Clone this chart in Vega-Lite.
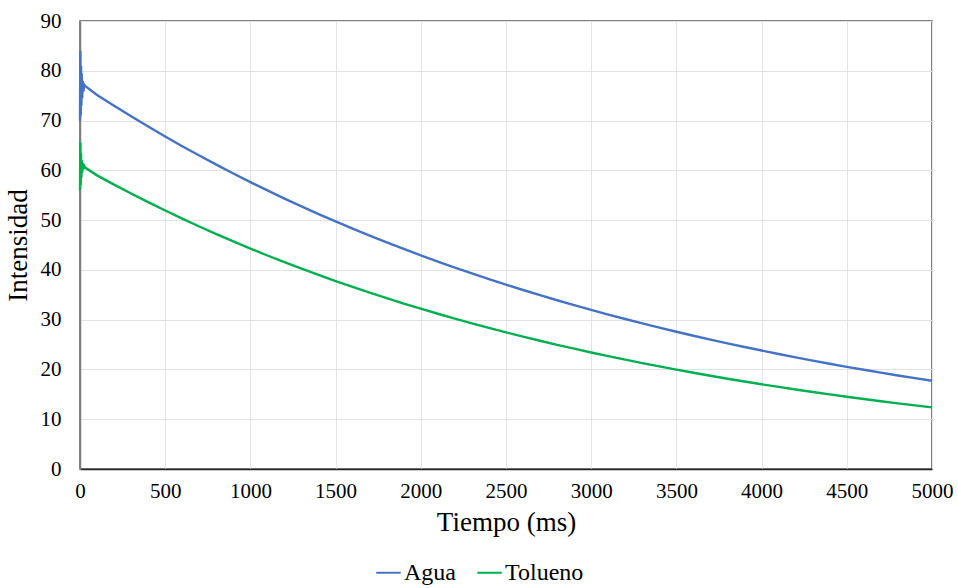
{
  "$schema": "https://vega.github.io/schema/vega-lite/v6.json",
  "width": 852,
  "height": 448,
  "autosize": "none",
  "padding": {"left": 80, "top": 21, "right": 26, "bottom": 119},
  "background": "white",
  "config": {
    "font": "Liberation Serif, DejaVu Serif, serif",
    "view": {"stroke": "#595959", "strokeWidth": 1.5},
    "axis": {
      "labelFont": "Liberation Serif, DejaVu Serif, serif",
      "titleFont": "Liberation Serif, DejaVu Serif, serif",
      "labelColor": "#000000",
      "titleColor": "#000000",
      "titleFontWeight": "normal",
      "gridColor": "#e3e3e3",
      "gridWidth": 1,
      "ticks": false
    },
    "legend": {
      "labelFont": "Liberation Serif, DejaVu Serif, serif"
    }
  },
  "datasets": {
    "agua": [
      {"t": 0, "v": 70}, {"t": 2, "v": 84}, {"t": 4, "v": 71}, {"t": 6, "v": 81}, {"t": 8, "v": 73},
      {"t": 10, "v": 79.5}, {"t": 13, "v": 74.5}, {"t": 16, "v": 78}, {"t": 20, "v": 75.8}, {"t": 25, "v": 77.2},
      {"t": 32, "v": 76.9},
      {"t": 100, "v": 75.15}, {"t": 200, "v": 72.97}, {"t": 300, "v": 70.85}, {"t": 400, "v": 68.79},
      {"t": 500, "v": 66.79}, {"t": 600, "v": 64.85}, {"t": 700, "v": 62.97}, {"t": 800, "v": 61.14},
      {"t": 900, "v": 59.36}, {"t": 1000, "v": 57.64}, {"t": 1100, "v": 55.96}, {"t": 1200, "v": 54.33},
      {"t": 1300, "v": 52.76}, {"t": 1400, "v": 51.22}, {"t": 1500, "v": 49.73}, {"t": 1600, "v": 48.29},
      {"t": 1700, "v": 46.89}, {"t": 1800, "v": 45.52}, {"t": 1900, "v": 44.2}, {"t": 2000, "v": 42.92},
      {"t": 2100, "v": 41.67}, {"t": 2200, "v": 40.46}, {"t": 2300, "v": 39.28}, {"t": 2400, "v": 38.14},
      {"t": 2500, "v": 37.03}, {"t": 2600, "v": 35.96}, {"t": 2700, "v": 34.91}, {"t": 2800, "v": 33.9},
      {"t": 2900, "v": 32.91}, {"t": 3000, "v": 31.96}, {"t": 3100, "v": 31.03}, {"t": 3200, "v": 30.13},
      {"t": 3300, "v": 29.25}, {"t": 3400, "v": 28.4}, {"t": 3500, "v": 27.58}, {"t": 3600, "v": 26.77},
      {"t": 3700, "v": 26.0}, {"t": 3800, "v": 25.24}, {"t": 3900, "v": 24.51}, {"t": 4000, "v": 23.8},
      {"t": 4100, "v": 23.1}, {"t": 4200, "v": 22.43}, {"t": 4300, "v": 21.78}, {"t": 4400, "v": 21.15},
      {"t": 4500, "v": 20.53}, {"t": 4600, "v": 19.94}, {"t": 4700, "v": 19.36}, {"t": 4800, "v": 18.79},
      {"t": 4900, "v": 18.25}, {"t": 5000, "v": 17.72}
    ],
    "tolueno": [
      {"t": 0, "v": 56}, {"t": 2, "v": 65.6}, {"t": 4, "v": 57}, {"t": 6, "v": 63.5}, {"t": 8, "v": 58.5},
      {"t": 10, "v": 62}, {"t": 13, "v": 59.5}, {"t": 16, "v": 61.5}, {"t": 20, "v": 60.2}, {"t": 25, "v": 60.9},
      {"t": 32, "v": 60.5},
      {"t": 100, "v": 58.99}, {"t": 200, "v": 57.14}, {"t": 300, "v": 55.35}, {"t": 400, "v": 53.61},
      {"t": 500, "v": 51.93}, {"t": 600, "v": 50.3}, {"t": 700, "v": 48.72}, {"t": 800, "v": 47.19},
      {"t": 900, "v": 45.71}, {"t": 1000, "v": 44.28}, {"t": 1100, "v": 42.89}, {"t": 1200, "v": 41.55},
      {"t": 1300, "v": 40.24}, {"t": 1400, "v": 38.98}, {"t": 1500, "v": 37.76}, {"t": 1600, "v": 36.57},
      {"t": 1700, "v": 35.43}, {"t": 1800, "v": 34.31}, {"t": 1900, "v": 33.24}, {"t": 2000, "v": 32.2},
      {"t": 2100, "v": 31.19}, {"t": 2200, "v": 30.21}, {"t": 2300, "v": 29.26}, {"t": 2400, "v": 28.34},
      {"t": 2500, "v": 27.45}, {"t": 2600, "v": 26.59}, {"t": 2700, "v": 25.76}, {"t": 2800, "v": 24.95},
      {"t": 2900, "v": 24.17}, {"t": 3000, "v": 23.41}, {"t": 3100, "v": 22.68}, {"t": 3200, "v": 21.96},
      {"t": 3300, "v": 21.27}, {"t": 3400, "v": 20.61}, {"t": 3500, "v": 19.96}, {"t": 3600, "v": 19.33},
      {"t": 3700, "v": 18.73}, {"t": 3800, "v": 18.14}, {"t": 3900, "v": 17.57}, {"t": 4000, "v": 17.02},
      {"t": 4100, "v": 16.49}, {"t": 4200, "v": 15.97}, {"t": 4300, "v": 15.47}, {"t": 4400, "v": 14.98},
      {"t": 4500, "v": 14.51}, {"t": 4600, "v": 14.06}, {"t": 4700, "v": 13.62}, {"t": 4800, "v": 13.19},
      {"t": 4900, "v": 12.78}, {"t": 5000, "v": 12.38}
    ]
  },
  "layer": [
    {
      "data": {"name": "agua"},
      "transform": [{"calculate": "'Agua'", "as": "serie"}],
      "mark": {"type": "line", "strokeWidth": 2.4, "interpolate": "linear"},
      "encoding": {
        "x": {
          "field": "t", "type": "quantitative",
          "scale": {"domain": [0, 5000], "nice": false},
          "axis": {
            "title": "Tiempo (ms)", "format": "d",
            "values": [0, 500, 1000, 1500, 2000, 2500, 3000, 3500, 4000, 4500, 5000],
            "labelFontSize": 21, "titleFontSize": 27, "labelPadding": 11, "titlePadding": 8,
            "domainColor": "#262626", "domainWidth": 1.5, "labelFlush": false
          }
        },
        "y": {
          "field": "v", "type": "quantitative",
          "scale": {"domain": [0, 90], "nice": false},
          "axis": {
            "title": "Intensidad", "format": "d",
            "values": [0, 10, 20, 30, 40, 50, 60, 70, 80, 90],
            "labelFontSize": 21, "titleFontSize": 27, "labelPadding": 19, "titlePadding": 8,
            "domainColor": "#808080", "domainWidth": 1.5
          }
        },
        "color": {
          "field": "serie", "type": "nominal",
          "scale": {"domain": ["Agua", "Tolueno"], "range": ["#4472C4", "#00B050"]},
          "legend": {
            "title": null, "orient": "none", "direction": "horizontal",
            "legendX": 295, "legendY": 538,
            "symbolType": "stroke", "symbolSize": 600, "symbolStrokeWidth": 2,
            "labelFontSize": 24, "labelColor": "#000000",
            "columnPadding": 17, "labelOffset": 2
          }
        }
      }
    },
    {
      "data": {"name": "tolueno"},
      "transform": [{"calculate": "'Tolueno'", "as": "serie"}],
      "mark": {"type": "line", "strokeWidth": 2.4, "interpolate": "linear"},
      "encoding": {
        "x": {"field": "t", "type": "quantitative"},
        "y": {"field": "v", "type": "quantitative"},
        "color": {"field": "serie", "type": "nominal"}
      }
    }
  ]
}
